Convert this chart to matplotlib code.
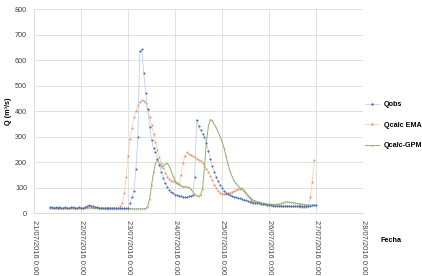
import matplotlib
matplotlib.use('Agg')
import matplotlib.pyplot as plt
import matplotlib.dates as mdates
import pandas as pd

plt.rcParams['font.family'] = ['Liberation Sans', 'DejaVu Sans']

# hourly values, first one at 21/07/2016 08:00 (one row per day)
start = '2016-07-21 08:00'

qobs = [22, 22, 21, 22, 21, 22, 21, 21, 22, 21, 21, 22, 22, 21, 21, 22,
        21, 21, 23, 26, 30, 29, 26, 23, 22, 21, 21, 20, 20, 20, 19, 20, 19, 19, 18, 18, 18, 19, 18, 18,
        19, 40, 64, 86, 172, 299, 636, 642, 548, 472, 407, 338, 286, 254, 240, 214, 188, 162, 136, 116, 104, 92, 84, 77,
        72, 70, 68, 66, 64, 62, 63, 66, 68, 70, 142, 367, 340, 325, 312, 300, 275, 245, 212, 186, 162, 142, 125, 110,
        98, 88, 80, 74, 70, 67, 64, 62, 60, 58, 56, 53, 50, 47, 44, 42, 41, 40, 39, 38, 37, 35, 34, 32,
        31, 30, 29, 28, 28, 27, 27, 27, 27, 27, 27, 27, 27, 27, 27, 27, 27, 27, 27, 27, 28, 29, 30, 30,
        30]

qema = [21, 21, 20, 21, 20, 21, 20, 20, 21, 20, 20, 21, 21, 20, 21, 21,
        20, 21, 22, 25, 28, 27, 25, 23, 22, 21, 21, 21, 20, 20, 20, 20, 20, 20, 20, 20, 26, 38, 77, 140,
        225, 290, 335, 375, 400, 425, 437, 443, 440, 430, 405, 375, 345, 312, 280, 248, 218, 195, 175, 158, 142, 132, 127, 124,
        122, 118, 114, 150, 195, 225, 238, 232, 226, 222, 218, 214, 210, 205, 196, 186, 174, 162, 145, 128, 112, 98, 86, 80,
        76, 75, 76, 78, 80, 83, 86, 90, 93, 96, 97, 88, 77, 68, 58, 53, 49, 46, 44, 42, 40, 38, 36, 35,
        34, 33, 32, 31, 31, 30, 29, 29, 28, 28, 27, 27, 27, 26, 26, 26, 25, 25, 25, 25, 27, 62, 120, 208]

qgpm = [19, 19, 19, 18, 19, 19, 18, 18, 19, 18, 18, 19, 19, 18, 18, 19,
        18, 18, 19, 19, 20, 20, 19, 19, 18, 18, 18, 18, 17, 17, 17, 17, 17, 17, 17, 17, 17, 17, 17, 17,
        17, 17, 17, 17, 17, 17, 17, 17, 17, 18, 25, 55, 110, 160, 195, 208, 195, 182, 186, 192, 195, 185, 165, 145,
        128, 116, 112, 108, 104, 103, 103, 101, 94, 84, 74, 68, 66, 70, 95, 180, 280, 340, 367, 362, 348, 335, 318, 300,
        280, 255, 222, 192, 165, 145, 128, 116, 108, 100, 94, 89, 80, 70, 62, 55, 50, 46, 44, 41, 39, 37, 36, 35,
        35, 34, 34, 34, 35, 35, 37, 40, 43, 44, 43, 42, 41, 40, 38, 37, 36, 35, 34, 33, 32, 31, 31, 31,
        31]

fechas = pd.date_range(start, periods=len(qobs), freq='h')

fig = plt.figure(figsize=(4.22, 2.76), dpi=100)
ax = fig.add_axes([0.0806, 0.228, 0.780, 0.739])

ax.plot(fechas, qobs, color='#b4c8ec', lw=0.5, marker='D', ms=1.0, mew=0.3,
        mfc='#5473b0', mec='#5473b0', label='Qobs', zorder=3)
ax.plot(fechas[:len(qema)], qema, color='#f8cba6', lw=0.5, marker='s', ms=0.9, mew=0.3,
        mfc='#e0956a', mec='#e0956a', label='Qcalc EMA', zorder=2)
ax.plot(fechas[:len(qgpm)], qgpm, color='#8fb463', lw=0.7, marker='^', ms=0.8, mew=0.3,
        mfc='#a8a8a0', mec='#a8a8a0', label='Qcalc-GPM', zorder=2)

ax.set_xlim(pd.Timestamp('2016-07-21'), pd.Timestamp('2016-07-28'))
ax.set_ylim(0, 800)
ax.set_yticks(range(0, 801, 100))
ax.xaxis.set_major_locator(mdates.DayLocator())
ax.xaxis.set_major_formatter(mdates.DateFormatter('%d/%m/%Y 0:00'))
ax.tick_params(axis='x', labelrotation=270, labelsize=5.4, colors='#404040', length=0, pad=5)
ax.tick_params(axis='y', labelsize=5.2, colors='#404040', length=0, pad=5)
for lab in ax.get_xticklabels():
    lab.set_va('top')
    lab.set_ha('center')

ax.grid(True, color='#dcdcdc', lw=0.6)
ax.set_axisbelow(True)
for s in ['top', 'right']:
    ax.spines[s].set_visible(False)
ax.spines['left'].set_color('#dcdcdc')
ax.spines['bottom'].set_color('#dcdcdc')

ax.set_ylabel('Q (m³/s)', fontsize=5.2, fontweight='bold')
ax.yaxis.set_label_coords(-0.068, 0.5)
fig.text(0.927, 0.130, 'Fecha', fontsize=5.2, fontweight='bold', ha='center', va='center')

ax.legend(loc='center left', bbox_to_anchor=(0.985, 0.43), frameon=False,
          prop={'weight': 'bold', 'size': 5.2}, handlelength=2.0,
          labelspacing=1.85, handletextpad=0.6, markerscale=1.3)

fig.savefig('out.png', dpi=100)
